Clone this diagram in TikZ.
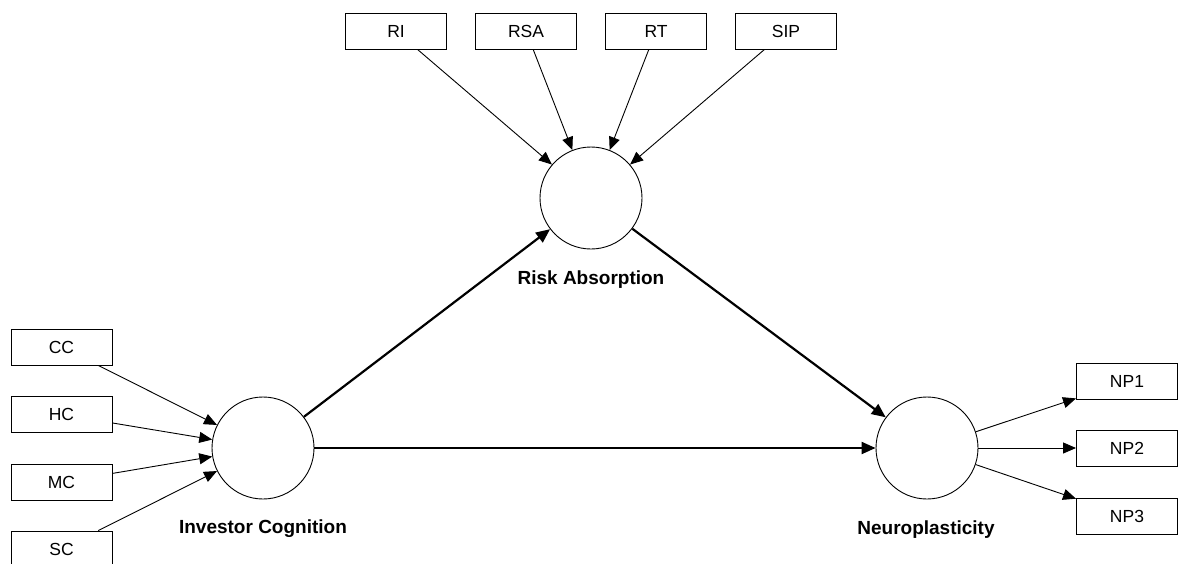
\documentclass[tikz,border=0pt]{standalone}
\usepackage{fontspec}
\setmainfont{Liberation Sans}
\usetikzlibrary{arrows.meta}
\tikzset{
  indicator/.style={draw=black, line width=0.9pt, fill=white, minimum width=101pt, minimum height=36pt, inner sep=0pt, font=\fontsize{17.5}{20}\selectfont},
  construct/.style={draw=black, line width=0.9pt, fill=white, circle, minimum size=102pt, inner sep=0pt},
  clabel/.style={font=\fontsize{19}{22}\selectfont\bfseries},
  thinarrow/.style={draw=black, line width=0.9pt, -{Triangle[length=13pt,width=11pt]}},
  thickarrow/.style={draw=black, line width=2.2pt, -{Triangle[length=14pt,width=12pt]}}
}
\begin{document}
\begin{tikzpicture}[x=1pt,y=-1pt]
  \clip (0,0) rectangle (1179,563);
  \fill[white] (0,0) rectangle (1179,563);

  % latent constructs
  \node[construct] (ic) at (263,448) {};
  \node[construct] (ra) at (591,198) {};
  \node[construct] (np) at (927,448) {};

  \node[clabel] (icl) at (263,529) {Investor Cognition};
  \node[clabel] (ral) at (591,280) {Risk Absorption};
  \node[clabel] (npl) at (926,530) {Neuroplasticity};

  % indicators of Risk Absorption
  \node[indicator] (ri)  at (396,31) {RI};
  \node[indicator] (rsa) at (526,31) {RSA};
  \node[indicator] (rt)  at (656,31) {RT};
  \node[indicator] (sip) at (786,31) {SIP};

  % indicators of Investor Cognition
  \node[indicator] (cc) at (61.5,347) {CC};
  \node[indicator] (hc) at (61.5,414.5) {HC};
  \node[indicator] (mc) at (61.5,482) {MC};
  \node[indicator] (sc) at (61.5,549) {SC};

  % indicators of Neuroplasticity
  \node[indicator] (np1) at (1127,381.5) {NP1};
  \node[indicator] (np2) at (1127,448) {NP2};
  \node[indicator] (np3) at (1127,516) {NP3};

  % measurement paths
  \foreach \s in {ri,rsa,rt,sip} \draw[thinarrow] (\s) -- (ra);
  \foreach \s in {cc,hc,mc,sc} \draw[thinarrow] (\s) -- (ic);
  \foreach \t in {np1,np2,np3} \draw[thinarrow] (np) -- (\t);

  % structural paths
  \draw[thickarrow] (ic) -- (ra);
  \draw[thickarrow] (ic) -- (np);
  \draw[thickarrow] (ra) -- (np);
\end{tikzpicture}
\end{document}
